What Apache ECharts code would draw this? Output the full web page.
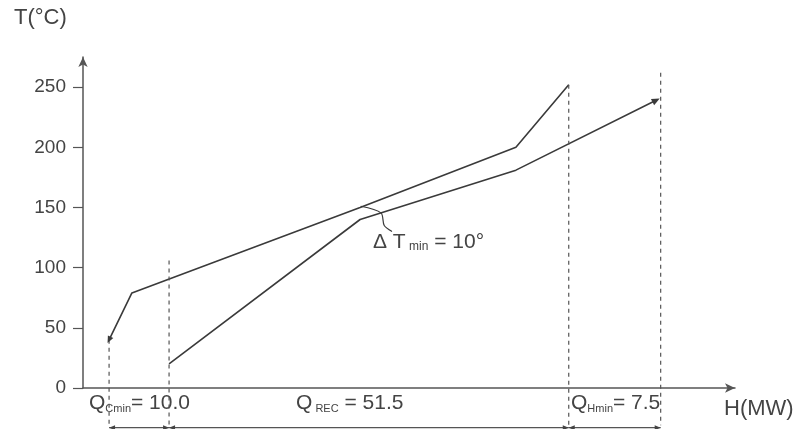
<!DOCTYPE html>
<html><head><meta charset="utf-8">
<script src="https://cdn.jsdelivr.net/npm/echarts@6/dist/echarts.min.js"></script>
<style>html,body{margin:0;padding:0;background:#fff}#c{width:800px;height:429px}</style>
</head><body><div id="c"></div>
<script>
// Hot composite curve (H in drawing units, T in °C)
const hotH = [4.0, 7.5, 42.5, 66.4, 74.5];
const hotT = [40, 79, 150, 200, 252];
// Cold composite curve
const coldH = [13.2, 42.5, 66.4, 87.9];
const coldT = [20, 140, 181, 239];
// Dashed guide lines
const guideH = [4.0, 13.2, 74.5, 88.6];
const guideTop = [40, 106, 252, 262];
const guideBottom = -31;
// Heat-duty spans at the bottom
const spanStart = [4.0, 13.2, 74.5];
const spanEnd = [13.2, 74.5, 88.6];
const spanT = -33;
// ΔTmin bracket
const bracketH = [42.6, 45.7, 46.2, 47.4];
const bracketT = [151, 145.5, 135, 130];
// y ticks
const yTicks = [0, 50, 100, 150, 200, 250];

const FONT = '"Liberation Sans", Arial, sans-serif';
const LINE = '#3a3a3a';
const AXIS = '#555';
const TXT = '#444';

const chart = echarts.init(document.getElementById('c'), null, {renderer: 'canvas'});

const zip = (a, b) => a.map((v, i) => [v, b[i]]);

const hotData = zip(hotH, hotT).map((p, i) => i === 0
  ? {value: p, symbol: 'triangle', symbolSize: [6, 7], symbolRotate: 154}
  : {value: p, symbol: 'none'});
const coldData = zip(coldH, coldT).map((p, i) => i === coldH.length - 1
  ? {value: p, symbol: 'triangle', symbolSize: [7, 8], symbolRotate: -63}
  : {value: p, symbol: 'none'});

const series = [
  {type: 'line', data: hotData, showAllSymbol: true, clip: false, silent: true,
   lineStyle: {color: LINE, width: 1.6}, itemStyle: {color: LINE}},
  {type: 'line', data: coldData, showAllSymbol: true, clip: false, silent: true,
   lineStyle: {color: LINE, width: 1.6}, itemStyle: {color: LINE}},
  {type: 'line', data: zip(bracketH, bracketT), symbol: 'none', smooth: 0.3, silent: true,
   lineStyle: {color: LINE, width: 1.2}}
];
guideH.forEach((h, i) => {
  series.push({type: 'line', symbol: 'none', clip: false, silent: true,
    data: [[h, guideTop[i]], [h, guideBottom]],
    lineStyle: {color: '#555', width: 1.2, type: [4, 4]}});
});
spanStart.forEach((s, i) => {
  series.push({type: 'line', clip: false, silent: true, showAllSymbol: true,
    data: [
      {value: [s, spanT], symbol: 'triangle', symbolSize: [5, 6], symbolRotate: 90, symbolOffset: [3, 0]},
      {value: [spanEnd[i], spanT], symbol: 'triangle', symbolSize: [5, 6], symbolRotate: -90, symbolOffset: [-3, 0]}
    ],
    lineStyle: {color: '#555', width: 1.2}, itemStyle: {color: '#444'}});
});

chart.setOption({
  animation: false,
  backgroundColor: '#fff',
  grid: {left: 83, right: 65, top: 57, bottom: 41, containLabel: false},
  xAxis: {
    type: 'value', min: 0, max: 100,
    axisLine: {show: true, lineStyle: {color: AXIS, width: 1.5}, symbol: ['none', 'arrow'], symbolSize: [7, 10]},
    axisTick: {show: false}, axisLabel: {show: false}, splitLine: {show: false}
  },
  yAxis: {
    type: 'value', min: 0, max: 275,
    axisLine: {show: true, lineStyle: {color: AXIS, width: 1.5}, symbol: ['none', 'arrow'], symbolSize: [7, 10]},
    axisTick: {show: true, length: 10, customValues: yTicks, lineStyle: {color: AXIS, width: 1.2}},
    axisLabel: {show: true, customValues: yTicks, margin: 17, color: TXT, fontFamily: FONT, fontSize: 19},
    splitLine: {show: false}
  },
  graphic: [
    {type: 'text', left: 14, top: 7, style: {text: 'T(°C)', fill: TXT, font: '22px ' + FONT}},
    {type: 'text', left: 724, top: 398, style: {text: 'H(MW)', fill: TXT, font: '22px ' + FONT}},
    {type: 'text', left: 89, top: 393, style: {
      text: '{a|Q}{s|Cmin}{a|= 10.0}', fill: TXT,
      rich: {a: {fontSize: 21, fontFamily: FONT, fill: TXT, verticalAlign: 'bottom'},
             s: {fontSize: 11, fontFamily: FONT, fill: TXT, verticalAlign: 'bottom'}}}},
    {type: 'text', left: 296, top: 393, style: {
      text: '{a|Q}{s| REC}{a| = 51.5}', fill: TXT,
      rich: {a: {fontSize: 21, fontFamily: FONT, fill: TXT, verticalAlign: 'bottom'},
             s: {fontSize: 11, fontFamily: FONT, fill: TXT, verticalAlign: 'bottom'}}}},
    {type: 'text', left: 571, top: 393, style: {
      text: '{a|Q}{s|Hmin}{a|= 7.5}', fill: TXT,
      rich: {a: {fontSize: 21, fontFamily: FONT, fill: TXT, verticalAlign: 'bottom'},
             s: {fontSize: 11, fontFamily: FONT, fill: TXT, verticalAlign: 'bottom'}}}},
    {type: 'text', left: 373, top: 232, style: {
      text: '{a|Δ T}{s| min}{a| = 10°}', fill: TXT,
      rich: {a: {fontSize: 21, fontFamily: FONT, fill: TXT, verticalAlign: 'bottom'},
             s: {fontSize: 12, fontFamily: FONT, fill: TXT, verticalAlign: 'bottom'}}}}
  ],
  series: series
});
</script>
</body></html>
